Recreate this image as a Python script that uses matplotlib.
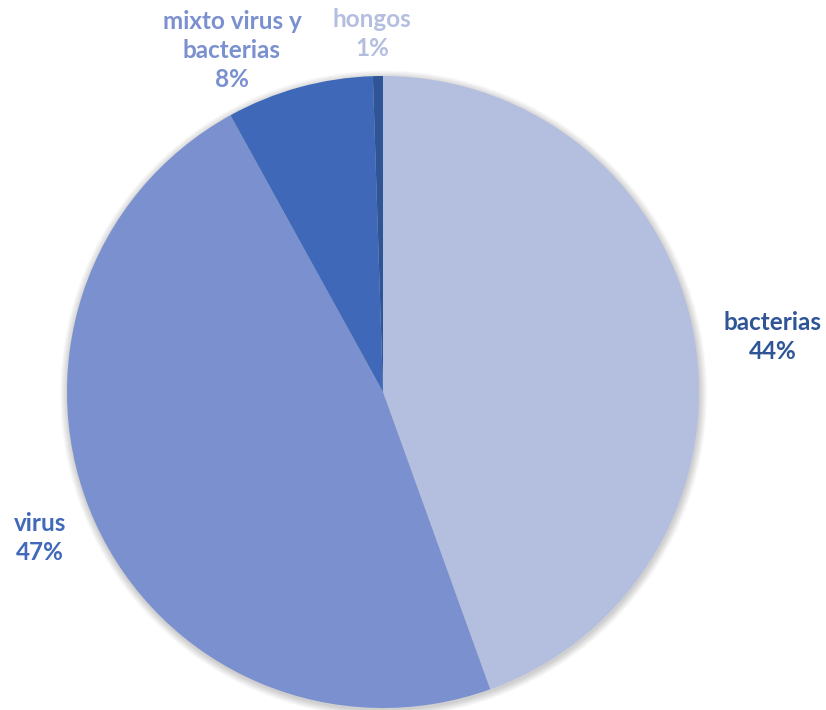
import matplotlib
matplotlib.use("Agg")
import matplotlib.pyplot as plt
from matplotlib.patches import Circle

# Distribution of infection type
categories = ["bacterias", "virus", "mixto virus y\nbacterias", "hongos"]
values = [44.49, 47.49, 7.51, 0.51]
slice_colors = ["#B4BFE0", "#7A90CF", "#3F69B8", "#2F5597"]
label_colors = ["#2F5597", "#4169BA", "#7A90CF", "#B4BFE0"]
# label anchor positions (in pie-radius units, centre at origin)
label_pos = [(1.234, 0.174), (-1.085, -0.462), (-0.478, 1.082), (-0.035, 1.133)]

fig = plt.figure(figsize=(8.26, 7.10), dpi=100)
ax = fig.add_axes([0, 0, 1, 1])

R_PX = 316.0
cx, cy = 383.0, 392.0

# soft drop shadow behind the pie
n = 16
for i in range(n):
    r = 1.0 + 0.024 * (n - i) / n
    ax.add_patch(Circle((0.002, -0.006), r, color="#000000", alpha=0.012, lw=0, zorder=0))

wedges, _ = ax.pie(values, colors=slice_colors, startangle=90, counterclock=False,
                   radius=1.0, wedgeprops=dict(linewidth=0), center=(0, 0), frame=True)
ax.set_xlim(-cx / R_PX, (826 - cx) / R_PX)
ax.set_ylim(-(710 - cy) / R_PX, cy / R_PX)
ax.set_aspect("equal")
ax.axis("off")
for w in wedges:
    w.set_zorder(2)

total = sum(values)
for name, v, col, (x, y) in zip(categories, values, label_colors, label_pos):
    ax.text(x, y, f"{name}\n{100 * v / total:.0f}%", ha="center", va="center",
            color=col, fontsize=17.5, fontweight="bold", family="Lato",
            linespacing=1.32, zorder=3)

fig.savefig("out.png", dpi=100, facecolor="white")
